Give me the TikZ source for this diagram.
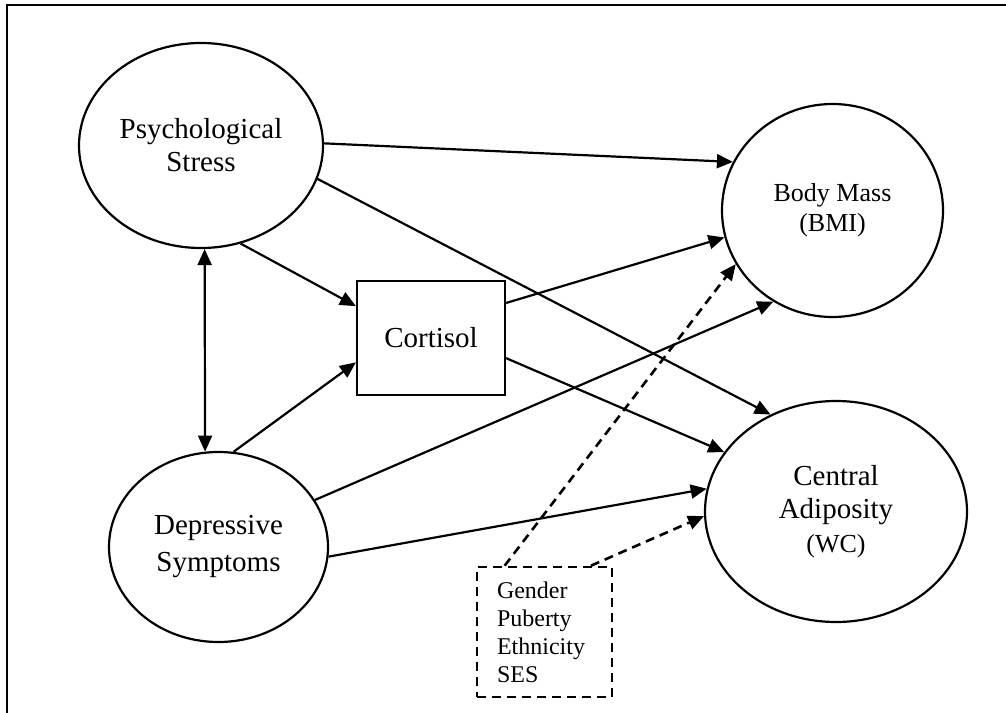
\documentclass[tikz,border=0pt]{standalone}
\usepackage{fontspec}
\setmainfont{Liberation Serif}
\usetikzlibrary{shapes.geometric,arrows.meta}
\tikzstyle{oval} = [ellipse,draw,line width=1.1pt,inner sep=0pt,align=center]
\tikzstyle{arr} = [line width=1.1pt,-{Triangle[length=8pt,width=7pt]}]
\tikzstyle{biarr} = [line width=1.1pt,{Triangle[length=8pt,width=7pt]}-{Triangle[length=8pt,width=7pt]}]
\tikzstyle{dasharr} = [arr,line width=1.3pt,dash pattern=on 4.5pt off 3pt]

\begin{document}
\begin{tikzpicture}[x=0.5pt,y=-0.5pt]
\useasboundingbox (0,0) rectangle (1006,712);
\clip (0,0) rectangle (1006,712);
\draw[line width=1.1pt] (7,5) rectangle (1014,720);

% variables
\node[oval,minimum width=122pt,minimum height=102.5pt,font=\fontsize{14.5}{16.5}\selectfont] (stress) at (201,145.5) {Psychological\\Stress};
\node[oval,minimum width=109.5pt,minimum height=95pt,font=\fontsize{14.5}{18.5}\selectfont] (depr) at (218.5,547) {Depressive\\Symptoms};
\node[oval,minimum width=110.5pt,minimum height=106.5pt,font=\fontsize{13}{15}\selectfont] (bmi) at (832.5,210.5) {Body Mass\\(BMI)};
\node[oval,minimum width=131pt,minimum height=110.5pt,font=\fontsize{14.5}{16.75}\selectfont] (wc) at (836,511.5) {Central\\Adiposity\\{\fontsize{13}{15}\selectfont(WC)}};
\node[draw,line width=1.1pt,minimum width=74pt,minimum height=57pt,font=\fontsize{14.5}{16.5}\selectfont] (cort) at (431,338) {Cortisol};
\node[draw,line width=1.3pt,dash pattern=on 4.5pt off 3pt,text width=47.5pt,inner xsep=10pt,minimum height=65pt,align=left,font=\fontsize{12}{14}\selectfont] (covar) at (544.5,632) {Gender\\Puberty\\Ethnicity\\SES};

% paths
\draw[arr] (stress.1) -- (bmi.154);
\draw[arr] (stress.-16) -- (wc.124);
\draw[arr] (stress.-68) -- (cort.157);
\draw[biarr] (stress.-88) -- (depr.98);
\draw[arr] (depr.81) -- (cort.-162);
\draw[arr] (cort.25) -- (bmi.-166);
\draw[arr] (cort.-15) -- (wc.152);
\draw[arr] (depr.26) -- (bmi.-123);
\draw[arr] (depr.-5) -- (wc.170);
\draw[dasharr] (covar.121) -- (bmi.-151);
\draw[dasharr] (covar.55) -- (wc.-178.5);

\end{tikzpicture}
\end{document}
